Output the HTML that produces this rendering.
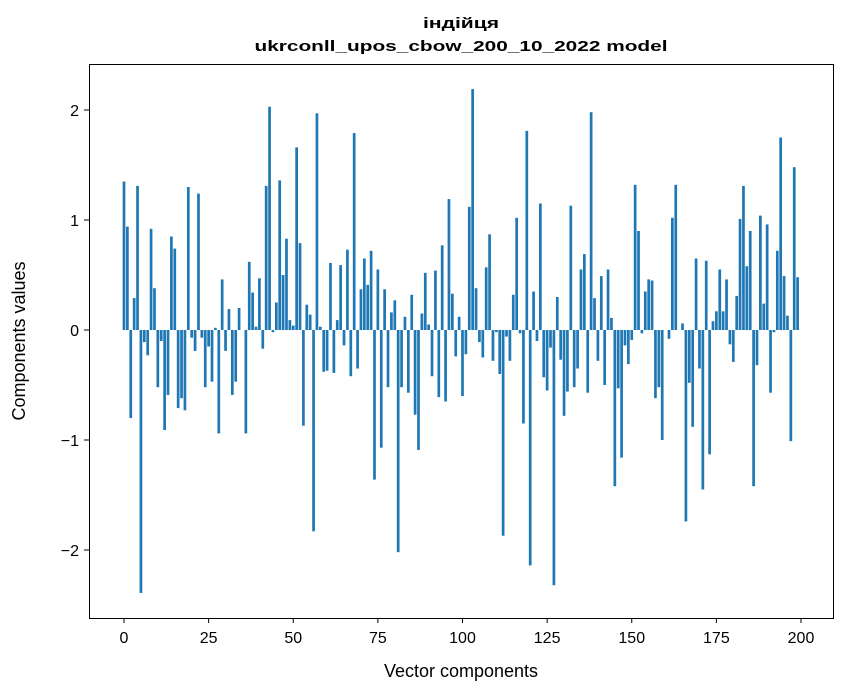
<!DOCTYPE html>
<html><head><meta charset="utf-8"><style>
html,body{margin:0;padding:0;background:#fff;}
svg{display:block;font-family:"Liberation Sans","DejaVu Sans",sans-serif;}
</style></head><body>
<svg id="chart" width="847" height="696" viewBox="0 0 847 696" xmlns="http://www.w3.org/2000/svg">
<rect x="0" y="0" width="847" height="696" fill="#fff"/>
<text x="461" y="28" text-anchor="middle" font-size="15" font-weight="bold" textLength="76" lengthAdjust="spacingAndGlyphs">індійця</text>
<text x="461" y="51" text-anchor="middle" font-size="15" font-weight="bold" textLength="413" lengthAdjust="spacingAndGlyphs">ukrconll_upos_cbow_200_10_2022 model</text>
<g id="bars"></g>
<g id="xticks"></g>
<g id="yticks"></g>
<rect x="89.5" y="64.5" width="744" height="554" fill="none" stroke="#000" stroke-width="1"/>
<text x="461" y="677" text-anchor="middle" font-size="18">Vector components</text>
<text x="25" y="341" text-anchor="middle" font-size="18" transform="rotate(-90 25 341)">Components values</text>
</svg>
<script>
const values = [1.35,0.94,-0.80,0.29,1.31,-2.39,-0.11,-0.23,0.92,0.38,-0.52,-0.10,-0.91,-0.59,0.85,0.74,-0.71,-0.62,-0.73,1.30,
-0.07,-0.19,1.24,-0.07,-0.52,-0.15,-0.47,0.02,-0.94,0.46,-0.19,0.19,-0.59,-0.47,0.20,0.00,-0.94,0.62,0.34,0.03,
0.47,-0.17,1.31,2.03,-0.02,0.25,1.36,0.50,0.83,0.09,0.04,1.66,0.79,-0.87,0.23,0.14,-1.83,1.97,0.03,-0.38,
-0.37,0.61,-0.39,0.09,0.59,-0.14,0.73,-0.42,1.79,-0.35,0.37,0.65,0.41,0.72,-1.36,0.55,-1.07,0.37,-0.52,0.16,
0.27,-2.02,-0.52,0.12,-0.57,0.32,-0.77,-1.09,0.15,0.52,0.05,-0.42,0.54,-0.61,0.77,-0.65,1.19,0.33,-0.24,0.12,
-0.60,-0.22,1.12,2.19,0.38,-0.11,-0.25,0.57,0.87,-0.28,-0.02,-0.40,-1.87,-0.06,-0.28,0.32,1.02,-0.03,-0.85,1.81,
-2.14,0.35,-0.10,1.15,-0.43,-0.55,-0.16,-2.32,0.30,-0.27,-0.78,-0.56,1.13,-0.52,-0.35,0.55,0.69,-0.57,1.98,0.29,
-0.28,0.49,-0.50,0.55,0.11,-1.42,-0.53,-1.16,-0.14,-0.31,-0.09,1.32,0.90,-0.03,0.35,0.46,0.45,-0.62,-0.52,-1.00,
0.00,-0.08,1.02,1.32,0.00,0.06,-1.74,-0.48,-0.88,0.65,-0.35,-1.45,0.63,-1.13,0.08,0.17,0.55,0.17,0.46,-0.13,
-0.29,0.31,1.01,1.31,0.58,0.90,-1.42,-0.32,1.04,0.24,0.96,-0.57,-0.02,0.72,1.75,0.49,0.13,-1.01,1.48,0.48];
const xTickValues = [0,25,50,75,100,125,150,175,200];
const yTickValues = [-2,-1,0,1,2];
const yTickLabels = ["\u22122","\u22121","0","1","2"];

const NS = "http://www.w3.org/2000/svg";
const xScale = v => 124 + (v) * (677/200);
const yScale = v => 330 - v * 110;
const barsG = document.getElementById('bars');
values.forEach((v, i) => {
  const r = document.createElementNS(NS, 'rect');
  const w = 0.8 * 677/200;
  const y0 = yScale(0), y1 = yScale(v);
  r.setAttribute('x', xScale(i) - w/2);
  r.setAttribute('y', Math.min(y0, y1));
  r.setAttribute('width', w);
  r.setAttribute('height', Math.abs(y1 - y0));
  r.setAttribute('fill', '#1f77b4');
  
  
  barsG.appendChild(r);
});
const xg = document.getElementById('xticks');
xTickValues.forEach(t => {
  const x = xScale(t);
  const l = document.createElementNS(NS, 'line');
  l.setAttribute('x1', x); l.setAttribute('x2', x);
  l.setAttribute('y1', 618); l.setAttribute('y2', 623);
  l.setAttribute('stroke', '#000');
  
  
  xg.appendChild(l);
  const tx = document.createElementNS(NS, 'text');
  tx.setAttribute('x', x); tx.setAttribute('y', 643);
  tx.setAttribute('text-anchor', 'middle');
  tx.setAttribute('font-size', '16');
  tx.textContent = String(t);
  
  
  xg.appendChild(tx);
});
const yg = document.getElementById('yticks');
yTickValues.forEach((t, k) => {
  const y = yScale(t);
  const l = document.createElementNS(NS, 'line');
  l.setAttribute('x1', 84); l.setAttribute('x2', 89);
  l.setAttribute('y1', y); l.setAttribute('y2', y);
  l.setAttribute('stroke', '#000');
  
  
  yg.appendChild(l);
  const tx = document.createElementNS(NS, 'text');
  tx.setAttribute('x', 79); tx.setAttribute('y', y + 6);
  tx.setAttribute('text-anchor', 'end');
  tx.setAttribute('font-size', '16');
  tx.textContent = yTickLabels[k];
  
  
  yg.appendChild(tx);
});
</script>
</body></html>
